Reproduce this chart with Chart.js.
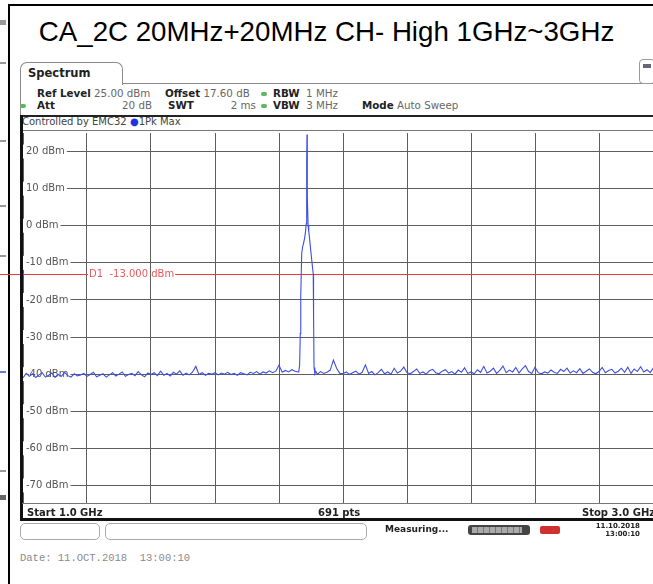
<!DOCTYPE html>
<html>
<head>
<meta charset="utf-8">
<script src="https://cdn.jsdelivr.net/npm/chart.js@4.4.1/dist/chart.umd.min.js"></script>
<style>
  html, body { margin: 0; padding: 0; }
  body {
    width: 653px; height: 584px; overflow: hidden; position: relative;
    background: #fff; font-family: "DejaVu Sans", sans-serif;
  }
  .abs { position: absolute; }
  .title {
    left: 0; width: 653px; top: 16px; text-align: center;
    font: 27.7px "Liberation Sans", Arial, sans-serif; color: #000; white-space: nowrap;
  }
  .tab {
    left: 20px; top: 62px; width: 101px; height: 22px;
    border: 1px solid #8a8a8a; border-bottom: none; border-radius: 7px 7px 0 0; background: #fff;
  }
  .tab span { position: absolute; left: 7px; top: 3px; font-weight: bold; font-size: 11.5px; color: #222; }
  .hdr { font-size: 10.3px; color: #666; white-space: nowrap; line-height: 12px; }
  .hdr b { color: #222; }
  .dot { width: 6px; height: 4px; border-radius: 3px; background: #5cb85c; }
  .small { font-size: 10px; color: #444; white-space: nowrap; line-height: 12px; }
  .bar { line-height: 13px; white-space: nowrap; }
  .bar b { font-size: 10px; color: #222; }
  .box { border: 1px solid #aaa; border-radius: 5px; background: #fff; }
  .frag { position: absolute; left: 0; width: 6px; height: 2px; background: #999; }
  #chartWrap { left: 0; top: 121px; width: 680px; height: 395px; }
</style>
</head>
<body>

<div class="abs title">CA_2C 20MHz+20MHz CH- High 1GHz~3GHz</div>

<!-- page frame, with bits of the neighbouring cell on the far left -->
<div class="abs" style="left:8px;top:4px;width:645px;height:2px;background:#000"></div>
<div class="abs" style="left:8px;top:4px;width:2px;height:580px;background:#000"></div>
<div class="frag" style="top:20px;height:5px"></div>
<div class="frag" style="top:62px"></div>
<div class="frag" style="top:140px"></div>
<div class="frag" style="top:205px"></div>
<div class="frag" style="top:255px"></div>
<div class="frag" style="top:371px;background:#6a78d8"></div>
<div class="frag" style="top:470px"></div>
<div class="frag" style="top:495px;height:5px;background:#666"></div>

<!-- analyzer header -->
<div class="abs tab"><span>Spectrum</span></div>
<div class="abs" style="left:122px;top:83px;width:531px;height:1px;background:#8a8a8a"></div>
<div class="abs" style="left:20px;top:84px;width:1px;height:32px;background:#8a8a8a"></div>
<div class="abs" style="left:639px;top:59px;width:14px;height:23px;border:1px solid #999;border-radius:4px"></div>
<div class="abs" style="left:643px;top:64px;width:8px;height:4px;background:#667"></div>

<div class="abs hdr" style="left:37px;top:87px"><b>Ref Level</b> 25.00 dBm</div>
<div class="abs hdr" style="left:165px;top:87px"><b>Offset</b> 17.60 dB</div>
<div class="abs dot" style="left:261px;top:92px"></div>
<div class="abs hdr" style="left:273px;top:87px"><b>RBW</b>&nbsp; 1 MHz</div>

<div class="abs dot" style="left:20px;top:104px"></div>
<div class="abs hdr" style="left:37px;top:99px"><b>Att</b></div>
<div class="abs hdr" style="left:120px;top:99px;width:32px;text-align:right">20 dB</div>
<div class="abs hdr" style="left:168px;top:99px"><b>SWT</b></div>
<div class="abs hdr" style="left:220px;top:99px;width:36px;text-align:right">2 ms</div>
<div class="abs dot" style="left:261px;top:104px"></div>
<div class="abs hdr" style="left:273px;top:99px"><b>VBW</b>&nbsp; 3 MHz</div>
<div class="abs hdr" style="left:362px;top:99px"><b>Mode</b> Auto Sweep</div>

<div class="abs" style="left:20px;top:115px;width:633px;height:2px;background:#222"></div>
<div class="abs small" style="left:22px;top:116px">Controlled by EMC32 <span style="color:#2233dd">&#9679;</span>1Pk Max</div>
<div class="abs" style="left:22px;top:130px;width:631px;height:1px;background:#777"></div>

<div id="chartWrap" class="abs"><canvas id="spectrumChart"></canvas></div>
<div class="abs" style="left:20px;top:115px;width:3px;height:406px;background:#111"></div>

<!-- frequency span bar -->
<div class="abs" style="left:22px;top:503px;width:631px;height:1px;background:#777"></div>
<div class="abs bar" style="left:27px;top:504px"><b>Start 1.0 GHz</b></div>
<div class="abs bar" style="left:318px;top:504px"><b>691 pts</b></div>
<div class="abs bar" style="left:582px;top:504px"><b>Stop 3.0 GHz</b></div>
<div class="abs" style="left:20px;top:518px;width:633px;height:3px;background:#111"></div>

<!-- status bar -->
<div class="abs box" style="left:20px;top:523px;width:78px;height:15px"></div>
<div class="abs box" style="left:105px;top:523px;width:260px;height:15px"></div>
<div class="abs" style="left:385px;top:524px;font-size:9px;font-weight:bold;color:#222">Measuring...</div>
<div class="abs" style="left:468px;top:525px;width:62px;height:10px;border-radius:3px;background:#444"></div>
<div class="abs" style="left:472px;top:527px;width:50px;height:6px;background:repeating-linear-gradient(90deg,#aaa 0 5px,#777 5px 6px)"></div>
<div class="abs" style="left:540px;top:526px;width:20px;height:8px;background:#d03030;border-radius:2px"></div>
<div class="abs" style="left:590px;top:522px;width:50px;font-size:7px;font-weight:bold;line-height:8px;text-align:right;color:#222">11.10.2018<br>13:00:10</div>

<div class="abs" style="left:20px;top:552px;font:10.5px 'Liberation Mono', monospace;color:#8a8a8a;white-space:pre">Date: 11.OCT.2018  13:00:10</div>

<script>
// sweep: 1.0 - 3.0 GHz, trace read every 10 MHz, carrier block listed separately
const sweepStartGHz = 1.0;
const sweepStopGHz = 3.0;
const noiseStepGHz = 0.01;

// 1Pk Max trace level (dBm), null where the carrier block takes over
const noiseLevels = [
  -41.0, -39.8, -40.6, -39.9, -40.9, -40.2, -39.6, -40.8, -40.3, -39.7,
  -40.9, -40.1, -40.6, -39.5, -40.4, -40.8, -39.9, -40.5, -40.2, -39.8,
  -40.6, -40.1, -39.5, -40.7, -40.3, -39.9, -40.8, -40.2, -39.6, -40.5,
  -40.0, -39.4, -40.6, -40.1, -39.8, -40.4, -39.3, -40.2, -40.7, -39.7,
  -40.1, -39.6, -40.4, -39.2, -40.3, -39.8, -40.5, -39.5, -40.0, -39.1,
  -40.3, -39.7, -40.2, -39.4, -37.9, -40.1, -39.6, -40.3, -39.8, -40.0,
  -39.6, -40.2, -39.7, -40.0, -39.5, -40.1, -39.8, -40.3, -39.6, -39.9,
  -40.2, -39.5, -39.8, -39.3, -40.0, -39.4, -39.7, -39.1, -39.6, -39.2,
  -37.6, -39.5, -39.0, -39.4, -38.8, -39.2,
  -39.4, null, null, null, null, null, -40.0, -39.3, -39.8, -39.5,
  -38.9, -36.2, -38.4, -39.8,
  -39.9, -39.4, -40.1, -39.6, -39.2, -40.0, -39.5, -37.5, -39.8, -39.3,
  -40.2, -39.6, -38.7, -39.9, -39.4, -40.0, -38.4, -39.7, -39.2, -38.1,
  -39.6, -39.9, -39.3, -38.6, -39.8, -39.4, -40.0, -39.1, -38.7, -39.6,
  -39.9, -39.2, -38.8, -39.7, -39.3, -40.0, -38.9, -39.5, -38.3, -39.8,
  -39.4, -39.9, -38.8, -39.5, -37.9, -39.7, -39.2, -38.4, -39.8, -39.0,
  -37.8, -39.6, -38.9, -39.4, -38.2, -39.7, -38.6, -37.7, -39.3, -39.8,
  -38.1, -39.6, -39.9, -39.4, -39.7, -38.9, -39.5, -39.8, -38.7, -39.3,
  -38.4, -39.7, -39.1, -39.6, -38.5, -39.8, -39.2, -38.6, -39.5, -39.9,
  -39.3, -38.2, -39.6, -39.0, -38.7, -39.7, -39.2, -38.4, -39.5, -38.1,
  -39.8, -38.6, -39.3, -38.0, -39.4, -38.8, -39.6, -38.3, -39.1, -39.5, -38.9
];

// CA_2C carrier around 1.8875 GHz
const carrierFreqGHz = [1.862, 1.8645, 1.8665, 1.868, 1.871, 1.874, 1.877, 1.880, 1.883,
  1.885, 1.886, 1.887, 1.8875, 1.888, 1.889, 1.891, 1.893, 1.895, 1.899, 1.903,
  1.907, 1.908, 1.9095, 1.912, 1.915];
const carrierLevels = [-39.2, -37.5, -29.0, -19.0, -7.4, -5.6, -4.6, -3.4, -1.5,
  0.5, 8.0, 18.0, 24.6, 19.0, 8.0, 0.0, -1.6, -3.0, -6.5, -9.8,
  -13.0, -24.0, -38.2, -39.9, -39.3];

const refLevelDbm = 25;
const bottomLevelDbm = -75;
const yGridDbm = [-70, -60, -50, -40, -30, -20, -10, 0, 10, 20];
const xGridGHz = [1.0, 1.2, 1.4, 1.6, 1.8, 2.0, 2.2, 2.4, 2.6, 2.8, 3.0];
const displayLineDbm = -13;

function buildTrace(){
  const pts = [];
  noiseLevels.forEach((v, i) => {
    if (v === null) return;
    pts.push({ x: sweepStartGHz + i * noiseStepGHz, y: v });
  });
  carrierFreqGHz.forEach((f, i) => pts.push({ x: f, y: carrierLevels[i] }));
  pts.sort((a, b) => a.x - b.x);
  return pts;
}

// D1 display line with its label
const displayLinePlugin = {
  id: 'displayLine',
  beforeDatasetsDraw(chart){
    const ctx = chart.ctx;
    const y = Math.round(chart.scales.y.getPixelForValue(displayLineDbm)) + 0.5;
    const text = 'D1  ' + displayLineDbm.toFixed(3) + ' dBm';
    ctx.save();
    ctx.font = '10px "DejaVu Sans"';
    const labelX = 89;
    const w = ctx.measureText(text).width;
    ctx.strokeStyle = '#e23c3c';
    ctx.lineWidth = 1;
    ctx.beginPath();
    ctx.moveTo(0, y); ctx.lineTo(labelX - 1, y);
    ctx.moveTo(labelX + w + 1, y); ctx.lineTo(chart.width, y);
    ctx.stroke();
    ctx.fillStyle = '#e85a5a';
    ctx.textBaseline = 'middle';
    ctx.fillText(text, labelX, y);
    ctx.restore();
  }
};

const gridColor = '#5e5e5e';

new Chart(document.getElementById('spectrumChart'), {
  type: 'line',
  data: {
    datasets: [{
      label: '1Pk Max',
      data: buildTrace(),
      borderColor: '#3d4fe0',
      borderWidth: 1.1,
      pointRadius: 0,
      tension: 0,
      fill: false
    }]
  },
  options: {
    responsive: true,
    maintainAspectRatio: false,
    animation: false,
    layout: { padding: { left: 17, top: 12, right: 17, bottom: 12 } },
    plugins: { legend: { display: false }, tooltip: { enabled: false } },
    scales: {
      x: {
        type: 'linear',
        min: sweepStartGHz,
        max: sweepStopGHz,
        afterBuildTicks: s => { s.ticks = xGridGHz.map(v => ({ value: v })); },
        ticks: { display: false },
        grid: { color: gridColor, lineWidth: 1, drawTicks: false },
        border: { display: false }
      },
      y: {
        min: bottomLevelDbm,
        max: refLevelDbm,
        afterBuildTicks: s => { s.ticks = yGridDbm.map(v => ({ value: v })); },
        ticks: {
          mirror: true,
          padding: 3,
          color: '#555',
          font: { family: 'DejaVu Sans', size: 10 },
          showLabelBackdrop: true,
          backdropColor: '#fff',
          backdropPadding: { left: 3, right: 2, top: 1, bottom: 1 },
          callback: v => v + ' dBm'
        },
        grid: { color: gridColor, lineWidth: 1, drawTicks: false },
        border: { display: false }
      }
    }
  },
  plugins: [displayLinePlugin]
});
</script>
</body>
</html>
